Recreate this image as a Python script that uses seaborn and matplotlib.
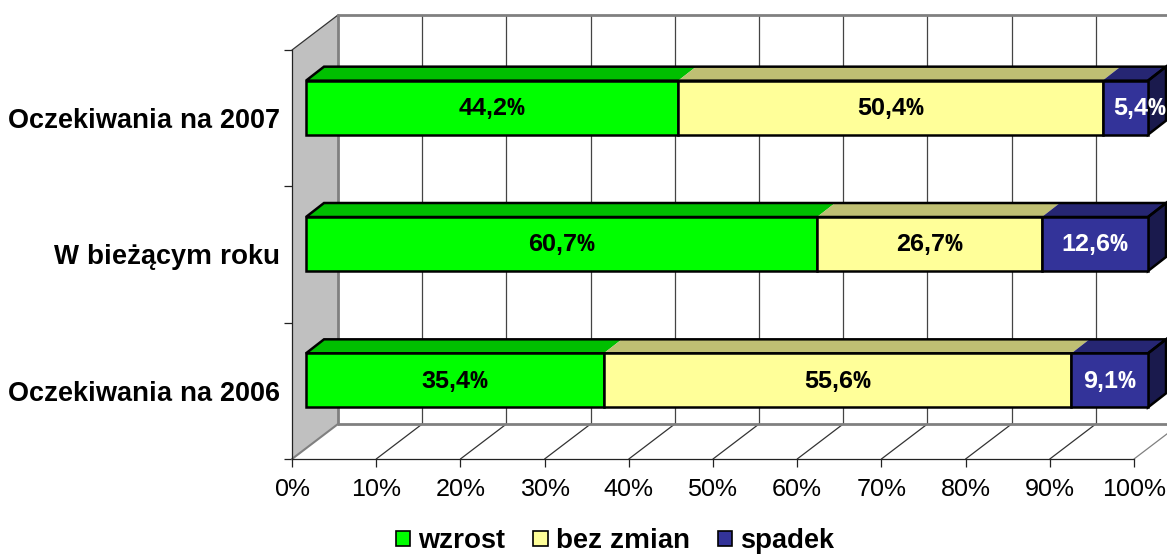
import matplotlib
matplotlib.use('Agg')
import matplotlib.pyplot as plt
from matplotlib.patches import Polygon, Patch
from matplotlib.transforms import Affine2D
import seaborn as sns

sns.set_style('white')
plt.rcParams['font.family'] = ['Liberation Sans', 'DejaVu Sans']
plt.rcParams['text.color'] = 'black'
plt.rcParams['xtick.labelcolor'] = 'black'
plt.rcParams['ytick.labelcolor'] = 'black'
plt.rcParams['text.hinting'] = 'native'
plt.rcParams['text.hinting_factor'] = 1

categories = ['Oczekiwania na 2007', 'W bieżącym roku', 'Oczekiwania na 2006']
series_names = ['wzrost', 'bez zmian', 'spadek']
wzrost = [44.2, 60.7, 35.4]
bez_zmian = [50.4, 26.7, 55.6]
spadek = [5.4, 12.6, 9.1]
x_ticks = [0, 10, 20, 30, 40, 50, 60, 70, 80, 90, 100]

front_colors = ['#00FF00', '#FFFF99', '#333399']
top_colors = ['#00BF00', '#BFBF73', '#262673']
side_color = '#1A1A4D'
label_colors = ['black', 'black', 'white']

W, H = 1167, 554
PX_X = 8.42
PX_Y = 136.33
BAR_H = 54 / PX_Y
EDGE = 1.8


def p(x, y, dx=0, dy=0):
    # data point moved by a pixel offset (dy is upwards)
    return (x + dx / PX_X, y - dy / PX_Y)


fig = plt.figure(figsize=(W / 100, H / 100), dpi=100)
ax = fig.add_axes([292 / W, (H - 459) / H, 842 / W, 409 / H])
ax.patch.set_visible(False)

# 100% stacked, so every row is scaled by its own total
rows = [wzrost, bez_zmian, spadek]
totals = [sum(r[i] for r in rows) for i in range(len(categories))]
shares = [[v / t * 100 for v, t in zip(r, totals)] for r in rows]

# front faces of the stacked bars
shift = Affine2D().translate(14, 10.5)
left = [0, 0, 0]
lefts = []
for values, color in zip(shares, front_colors):
    sns.barplot(x=values, y=categories, order=categories, orient='y',
                left=left, color=color, saturation=1, width=BAR_H,
                edgecolor='black', linewidth=EDGE, errorbar=None, ax=ax)
    lefts.append(left)
    left = [a + b for a, b in zip(left, values)]

for container in ax.containers:
    for bar in container:
        bar.set_transform(ax.transData + shift)
        bar.set_clip_on(False)
        bar.set_zorder(5)

ax.set_xlim(0, 100)
ax.set_ylim(2.5, -0.5)

# left wall
ax.add_patch(Polygon([p(0, 2.5), p(0, -0.5), p(0, -0.5, 46, 35), p(0, 2.5, 46, 35)],
                     facecolor='#C0C0C0', edgecolor='none', clip_on=False, zorder=1))
ax.plot(*zip(p(0, -0.5), p(0, -0.5, 46, 35)), color='#333333', lw=0.9,
        clip_on=False, zorder=2)
ax.plot(*zip(p(0, 2.5), p(0, 2.5, 46, 35)), color='#808080', lw=1.5,
        clip_on=False, zorder=2)

# back wall grid and floor lines
for t in x_ticks[1:]:
    c = '#808080' if t == 100 else '#333333'
    ax.plot(*zip(p(t, 2.5), p(t, 2.5, 46, 35)), color=c, lw=0.9,
            clip_on=False, zorder=2)
    ax.plot(*zip(p(t, 2.5, 46, 35), p(t, -0.5, 46, 35)), color='#444444', lw=0.9,
            clip_on=False, zorder=2)
ax.plot(*zip(p(0, 2.5, 46, 35), p(0, -0.5, 46, 35)), color='#808080', lw=2,
        clip_on=False, zorder=3)
ax.plot(*zip(p(0, -0.5, 46, 35), p(100, -0.5, 46, 35)), color='#808080', lw=2,
        clip_on=False, zorder=3)
ax.plot(*zip(p(0, 2.5, 46, 35), p(100, 2.5, 46, 35)), color='#808080', lw=2,
        clip_on=False, zorder=3)

# top and side faces, labels
for i in range(len(categories)):
    y_top = i - BAR_H / 2
    y_bot = i + BAR_H / 2
    for j, values in enumerate(shares):
        x0 = lefts[j][i]
        x1 = x0 + values[i]
        ax.add_patch(Polygon([p(x0, y_top, 14, 10.5), p(x1, y_top, 14, 10.5),
                              p(x1, y_top, 32, 24.5), p(x0, y_top, 32, 24.5)],
                             facecolor=top_colors[j], edgecolor='none',
                             clip_on=False, zorder=4))
        # the narrow 5,4% label sits off centre in the original
        nudge = 14 if values[i] < 6 else 0
        ax.text(*p((x0 + x1) / 2, i, 14 + nudge, 9.5),
                ('%.1f%%' % rows[j][i]).replace('.', ','),
                ha='center', va='center', fontsize=17.8, fontweight='bold',
                color=label_colors[j], zorder=7)
    ax.add_patch(Polygon([p(100, y_top, 14, 10.5), p(100, y_bot, 14, 10.5),
                          p(100, y_bot, 32, 24.5), p(100, y_top, 32, 24.5)],
                         facecolor=side_color, edgecolor='black', linewidth=EDGE,
                         clip_on=False, zorder=4))
    ax.add_patch(Polygon([p(0, y_top, 14, 10.5), p(100, y_top, 14, 10.5),
                          p(100, y_top, 32, 24.5), p(0, y_top, 32, 24.5)],
                         fill=False, edgecolor='black', linewidth=EDGE,
                         clip_on=False, zorder=4))

# axes
sns.despine(ax=ax)
for s in ['left', 'bottom']:
    ax.spines[s].set_color('#222222')
    ax.spines[s].set_linewidth(0.9)
    ax.spines[s].set_zorder(2)
ax.set_xticks(x_ticks)
ax.set_xticklabels(['%d%%' % t for t in x_ticks], fontsize=18.2)
ax.set_yticks([-0.5, 0.5, 1.5, 2.5], minor=True)
ax.tick_params(axis='x', which='major', bottom=True, length=5.5, width=0.9,
               color='#222222', pad=8)
ax.tick_params(axis='y', which='minor', left=True, length=5.8, width=0.9,
               color='#222222')
ax.tick_params(axis='y', which='major', left=False, pad=5.5)
for tick in ax.get_yticklabels():
    tick.set_fontsize(19.2)
    tick.set_fontweight('bold')
ax.set_xlabel('')
ax.set_ylabel('')

handles = [Patch(facecolor=c, edgecolor='black', linewidth=1.2) for c in front_colors]
fig.legend(handles, series_names, loc='center', bbox_to_anchor=(615 / W, (H - 541) / H),
           ncol=3, frameon=False, prop={'size': 19.3, 'weight': 'bold'},
           handlelength=0.53, handleheight=0.53, handletextpad=0.3,
           columnspacing=1.05)

fig.savefig('out.png', dpi=100)
